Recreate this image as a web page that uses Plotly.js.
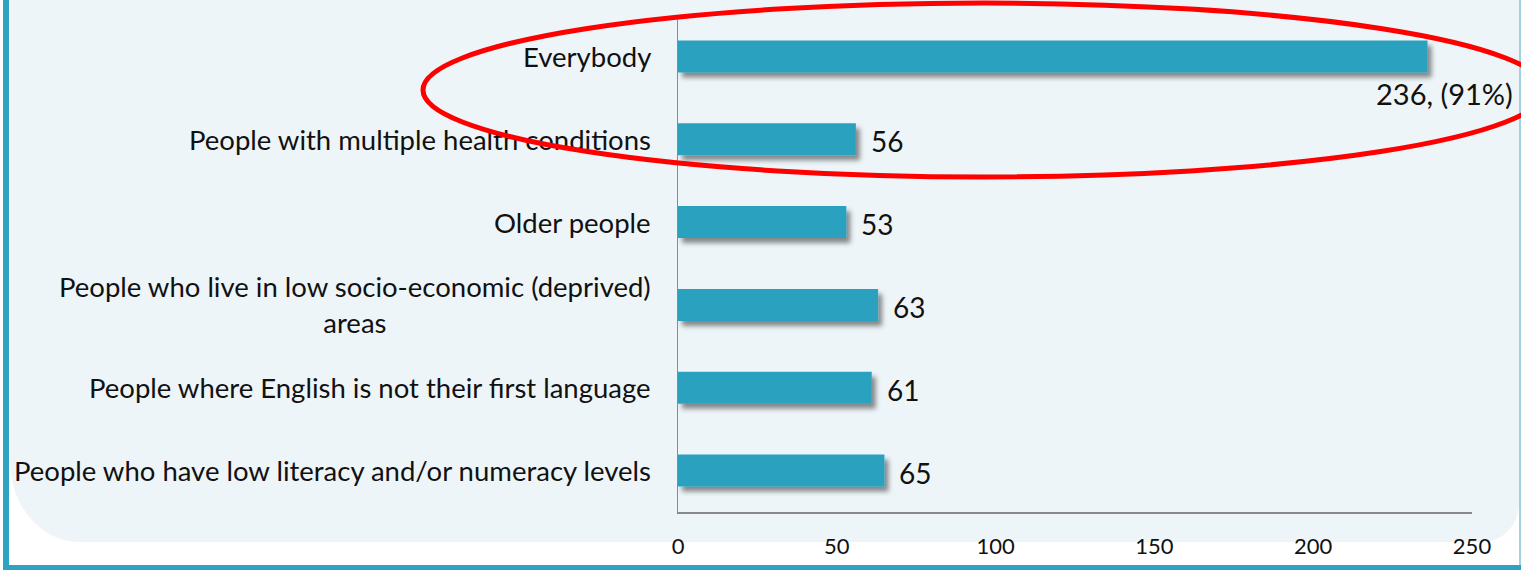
<!DOCTYPE html>
<html>
<head>
<meta charset="utf-8">
<script src="https://cdn.plot.ly/plotly-3.0.1.min.js"></script>
<style>
  html, body { margin:0; padding:0; background:#ffffff; }
  #wrap { position:relative; width:1521px; height:570px; overflow:hidden; background:#ffffff; }
  #panel { position:absolute; left:10px; top:0; width:1509px; height:542px; background:#eef5f8;
           border-bottom-left-radius:70px 80px; border-bottom-right-radius:36px 38px; }
  #leftbar { position:absolute; left:3px; top:0; width:6px; height:570px; background:#2ea3c1; }
  #bottombar { position:absolute; left:3px; top:565px; width:1518px; height:5px; background:#2ea3c1; }
  #rightbar { position:absolute; left:1519px; top:0; width:2px; height:570px; background:#9fd3e0; }
  #chart { position:absolute; left:0; top:0; width:1521px; height:570px; }
  #ring { position:absolute; left:0; top:0; width:1521px; height:570px; pointer-events:none; }
</style>
</head>
<body>
<div id="wrap">
  <div id="panel"></div>
  <div id="leftbar"></div>
  <div id="rightbar"></div>
  <div id="bottombar"></div>
  <div id="chart"></div>
  <svg id="ring" width="1521" height="570">
    <ellipse cx="984" cy="90" rx="561" ry="87" fill="none" stroke="#ff0000" stroke-width="5"/>
  </svg>
</div>
<script>
// ---- data ----
const categories = [
  "Everybody",
  "People with multiple health conditions",
  "Older people",
  "People who live in low socio-economic (deprived)<br>areas",
  "People where English is not their first language",
  "People who have low literacy and/or numeracy levels"
];
const values = [236, 56, 53, 63, 61, 65];
const valueLabels = ["236, (91%)", "56", "53", "63", "61", "65"];
const xTicks = [0, 50, 100, 150, 200, 250];

// ---- style ----
const FONT = 'Lato, "Open Sans", sans-serif';
const TEXT = '#111111';
const BAR = '#2ca2bf';

const trace = {
  type: 'bar',
  orientation: 'h',
  x: values,
  y: categories,
  marker: { color: BAR, line: { width: 0 } },
  hoverinfo: 'none'
};

const annotations = [];
categories.forEach((c, i) => {
  annotations.push({
    x: 0, xref: 'paper', xanchor: 'right', xshift: -25,
    y: c, yref: 'y', yanchor: 'middle',
    text: c, showarrow: false, align: 'center',
    font: { family: FONT, size: 27.5, color: TEXT }
  });
  const first = (i === 0);
  annotations.push({
    x: values[i], xref: 'x',
    xanchor: first ? 'center' : 'left',
    xshift: first ? 17 : 13,
    y: c, yref: 'y', yanchor: 'middle',
    yshift: first ? -37 : -2,
    text: valueLabels[i], showarrow: false,
    font: { family: FONT, size: first ? 29 : 28, color: TEXT }
  });
});

const layout = {
  width: 1521, height: 570,
  margin: { l: 678, r: 49, t: 15, b: 58, pad: 0, autoexpand: false },
  paper_bgcolor: 'rgba(0,0,0,0)',
  plot_bgcolor: 'rgba(0,0,0,0)',
  showlegend: false,
  bargap: 0.614,
  xaxis: {
    range: [0, 250], tickvals: xTicks, ticktext: xTicks.map(String),
    showgrid: false, zeroline: false, showline: true, automargin: false,
    linecolor: '#8a8a8a', linewidth: 1.5, ticks: '',
    ticklabelstandoff: 14,
    tickfont: { family: FONT, size: 22, color: TEXT },
    fixedrange: true
  },
  yaxis: {
    type: 'category', categoryorder: 'array', categoryarray: categories,
    range: [5.5, -0.5], autorange: false, automargin: false,
    showgrid: false, zeroline: false, showline: true,
    linecolor: '#8a8a8a', linewidth: 1.5, ticks: '',
    showticklabels: false, fixedrange: true
  },
  annotations: annotations
};

const gd = document.getElementById('chart');
Plotly.newPlot(gd, [trace], layout, { displayModeBar: false, staticPlot: true }).then(() => {
  const svg = gd.querySelector('.main-svg');
  const NS = 'http://www.w3.org/2000/svg';
  let defs = svg.querySelector('defs');
  if (!defs) { defs = document.createElementNS(NS, 'defs'); svg.insertBefore(defs, svg.firstChild); }
  const f = document.createElementNS(NS, 'filter');
  f.setAttribute('id', 'barShadow');
  f.setAttribute('x', '-5%'); f.setAttribute('y', '-60%');
  f.setAttribute('width', '115%'); f.setAttribute('height', '230%');
  const ds = document.createElementNS(NS, 'feDropShadow');
  ds.setAttribute('dx', '4'); ds.setAttribute('dy', '5');
  ds.setAttribute('stdDeviation', '2.5');
  ds.setAttribute('flood-color', '#000000');
  ds.setAttribute('flood-opacity', '0.45');
  f.appendChild(ds);
  defs.appendChild(f);
  gd.querySelectorAll('.bars .point path').forEach(p => p.setAttribute('filter', 'url(#barShadow)'));
});
</script>
</body>
</html>
